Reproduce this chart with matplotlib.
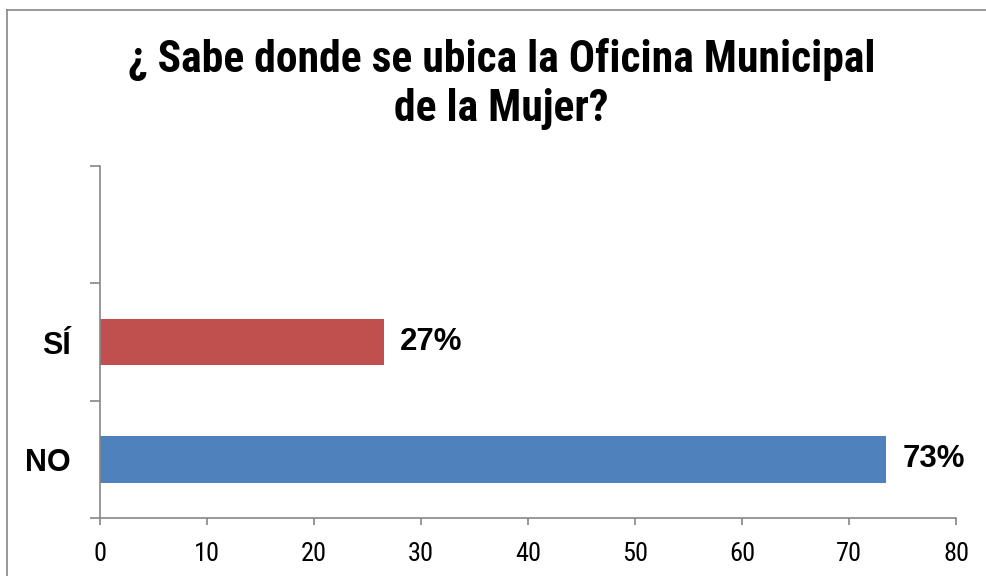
import matplotlib
matplotlib.use("Agg")
import matplotlib.pyplot as plt
from matplotlib import font_manager
from matplotlib.lines import Line2D

# data
categories = ["NO", "SÍ", ""]
values = [73.5, 26.5, None]
labels = ["73%", "27%", ""]
bar_colors = ["#4F81BD", "#C0504D", "none"]
x_ticks = [0, 10, 20, 30, 40, 50, 60, 70, 80]
title_lines = ["¿ Sabe donde se ubica la Oficina Municipal", "de la Mujer?"]

names = {f.name for f in font_manager.fontManager.ttflist}


def pick(*fams):
    for f in fams:
        if f in names:
            return f
    return "DejaVu Sans"


narrow = pick("Roboto Condensed", "PT Sans Narrow", "Archivo Narrow", "Liberation Sans")
wide = pick("Liberation Sans", "Arimo", "DejaVu Sans")

W, H = 986, 576
fig = plt.figure(figsize=(W / 100, H / 100), dpi=100)
ax = fig.add_axes([100 / W, 1 - 518 / H, (956 - 100) / W, (518 - 166) / H])

grey = "#868686"

pos = list(range(len(categories)))
for p, v, c in zip(pos, values, bar_colors):
    if v is None:
        continue
    ax.barh(p, v, height=0.4, color=c)

for p, v, t in zip(pos, values, labels):
    if v is None:
        continue
    ax.annotate(t, xy=(v, p), xytext=(11.5, 0), textcoords="offset points",
                ha="left", va="center", fontsize=22.5, fontweight="bold",
                family=wide)

ax.set_xlim(0, 80)
ax.set_ylim(-0.5, 2.5)
ax.set_xticks(x_ticks)
ax.set_xticklabels([str(t) for t in x_ticks], family=narrow, fontsize=19)
ax.set_yticks(pos)
ax.set_yticklabels(categories, family=wide, fontsize=22, fontweight="bold")
ax.set_yticks([-0.5, 0.5, 1.5, 2.5], minor=True)
ax.tick_params(axis="y", which="major", length=0, pad=21)
ax.tick_params(axis="y", which="minor", length=7, width=1.2, color=grey, direction="out")
ax.tick_params(axis="x", length=5, width=1.2, color=grey, direction="out", pad=12)

for s in ["top", "right"]:
    ax.spines[s].set_visible(False)
for s in ["left", "bottom"]:
    ax.spines[s].set_color(grey)
    ax.spines[s].set_linewidth(1.2)

# title: condensed bold, sized so the first line spans about 749 px
t1 = fig.text(501.5 / W, 1 - 72 / H, title_lines[0], ha="center", va="baseline",
              fontsize=25, fontweight="bold", family=narrow)
r = fig.canvas.get_renderer()
w = t1.get_window_extent(renderer=r).width
size = 25 * 749 / w
t1.set_fontsize(size)
fig.text(501.5 / W, 1 - 121 / H, title_lines[1], ha="center", va="baseline",
         fontsize=size, fontweight="bold", family=narrow)

# chart frame (only left and top edges show in the crop)
fig.add_artist(Line2D([7 / W, 7 / W], [0, 1 - 10 / H], color=grey, lw=1.2,
                      transform=fig.transFigure))
fig.add_artist(Line2D([7 / W, 1], [1 - 10 / H, 1 - 10 / H], color=grey, lw=1.2,
                      transform=fig.transFigure))

fig.savefig("out.png", dpi=100)
